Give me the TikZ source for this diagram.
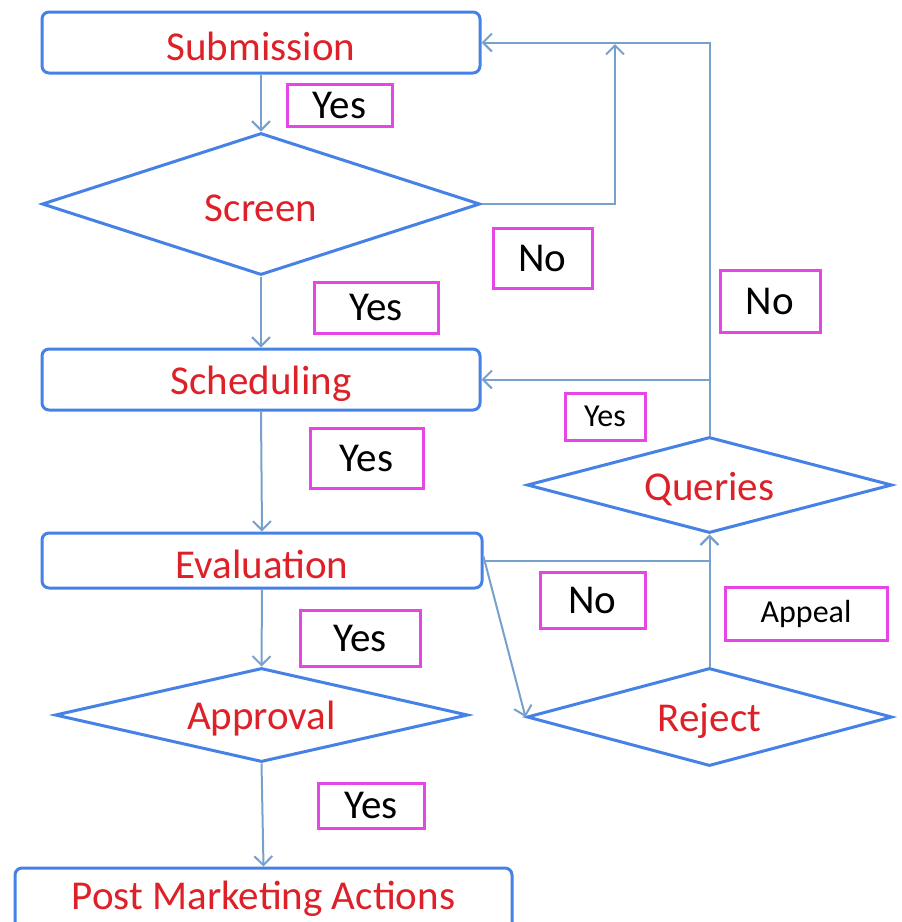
\documentclass[tikz,border=0pt]{standalone}
\usepackage{fontspec}
\setmainfont{Carlito}
\usetikzlibrary{shapes.geometric,arrows.meta}
\definecolor{bbord}{RGB}{70,130,230}
\definecolor{rtext}{RGB}{222,32,40}
\definecolor{conn}{RGB}{120,160,205}
\definecolor{mag}{RGB}{230,70,230}
\newcommand{\lowtxt}[1]{\raisebox{-4pt}[\height][\depth]{#1}}
\tikzset{
  procbox/.style={draw=bbord,line width=3pt,rounded corners=7pt,fill=white,text=rtext,font=\fontsize{41}{46}\selectfont,inner sep=0pt},
  decbox/.style={draw=bbord,line width=3pt,diamond,fill=white,text=rtext,font=\fontsize{41}{46}\selectfont,inner sep=0pt},
  lab/.style={draw=mag,line width=3pt,text=black,font=\fontsize{41}{46}\selectfont,inner sep=0pt},
  slab/.style={lab,font=\fontsize{32}{36}\selectfont},
  cn/.style={draw=conn,line width=2pt,-{Straight Barb[length=9pt,width=18pt,line width=2pt]}}
}
\begin{document}
\begin{tikzpicture}[x=1pt,y=-1pt]
\useasboundingbox[fill=white] (0,0) rectangle (902,922);
% nodes
\node[procbox,minimum width=438pt,minimum height=61pt] (sub) at (261,42.5) {\lowtxt{Submission}};
\node[decbox,shape aspect=3.08,minimum width=438pt,minimum height=142pt] (scr) at (261,204) {\lowtxt{Screen}};
\node[procbox,minimum width=438pt,minimum height=61pt] (sch) at (261,379.5) {\lowtxt{Scheduling}};
\node[procbox,minimum width=440pt,minimum height=55pt] (eva) at (262,560.5) {\lowtxt{Evaluation}};
\node[decbox,shape aspect=4.39,minimum width=413pt,minimum height=94pt] (app) at (261.5,715) {\lowtxt{Approval}};
\node[procbox,minimum width=497pt,minimum height=62pt] (pma) at (263.5,899) {Post Marketing Actions};
\node[decbox,shape aspect=3.8,minimum width=365pt,minimum height=96pt] (que) at (709.5,485) {\lowtxt{Queries}};
\node[decbox,shape aspect=3.72,minimum width=365pt,minimum height=98pt] (rej) at (709.5,717) {\lowtxt{Reject}};
% labels
\node[lab,minimum width=105pt,minimum height=42pt] (l1) at (339.5,105) {Yes};
\node[lab,minimum width=99pt,minimum height=60pt] (l2) at (542.5,258) {No};
\node[lab,minimum width=124pt,minimum height=51pt] (l3) at (376,307.5) {Yes};
\node[lab,minimum width=100pt,minimum height=62pt] (l4) at (770,301) {No};
\node[slab,minimum width=80pt,minimum height=47pt] (l5) at (605,416.5) {Yes};
\node[lab,minimum width=113pt,minimum height=60pt] (l6) at (366.5,458) {Yes};
\node[lab,minimum width=105pt,minimum height=56pt] (l7) at (592.5,600) {No};
\node[slab,minimum width=162pt,minimum height=53pt] (l8) at (806,613.5) {Appeal};
\node[lab,minimum width=120pt,minimum height=56pt] (l9) at (360,638) {Yes};
\node[lab,minimum width=106pt,minimum height=45pt] (l10) at (371,805.5) {Yes};
% connectors
\coordinate (sn) at (615,44);
\draw[cn] (sub.south) -- (scr.north);
\draw[cn] (scr.south) -- (sch.north);
\draw[cn] (sch.south) -- (eva.north);
\draw[cn] (eva.south) -- (app.north);
\draw[cn] (app.south) -- (pma.north);
\draw[cn] (scr.east) -| (sn);
\draw[cn] (que.north) |- (sub.east);
\draw[cn] (que.north) |- (sch.east);
\draw[cn] (eva.east) -| (que.south);
\draw[cn] (rej.north) -- (que.south);
\draw[cn] ([yshift=4pt]eva.east) -- (rej.west);
\end{tikzpicture}
\end{document}
